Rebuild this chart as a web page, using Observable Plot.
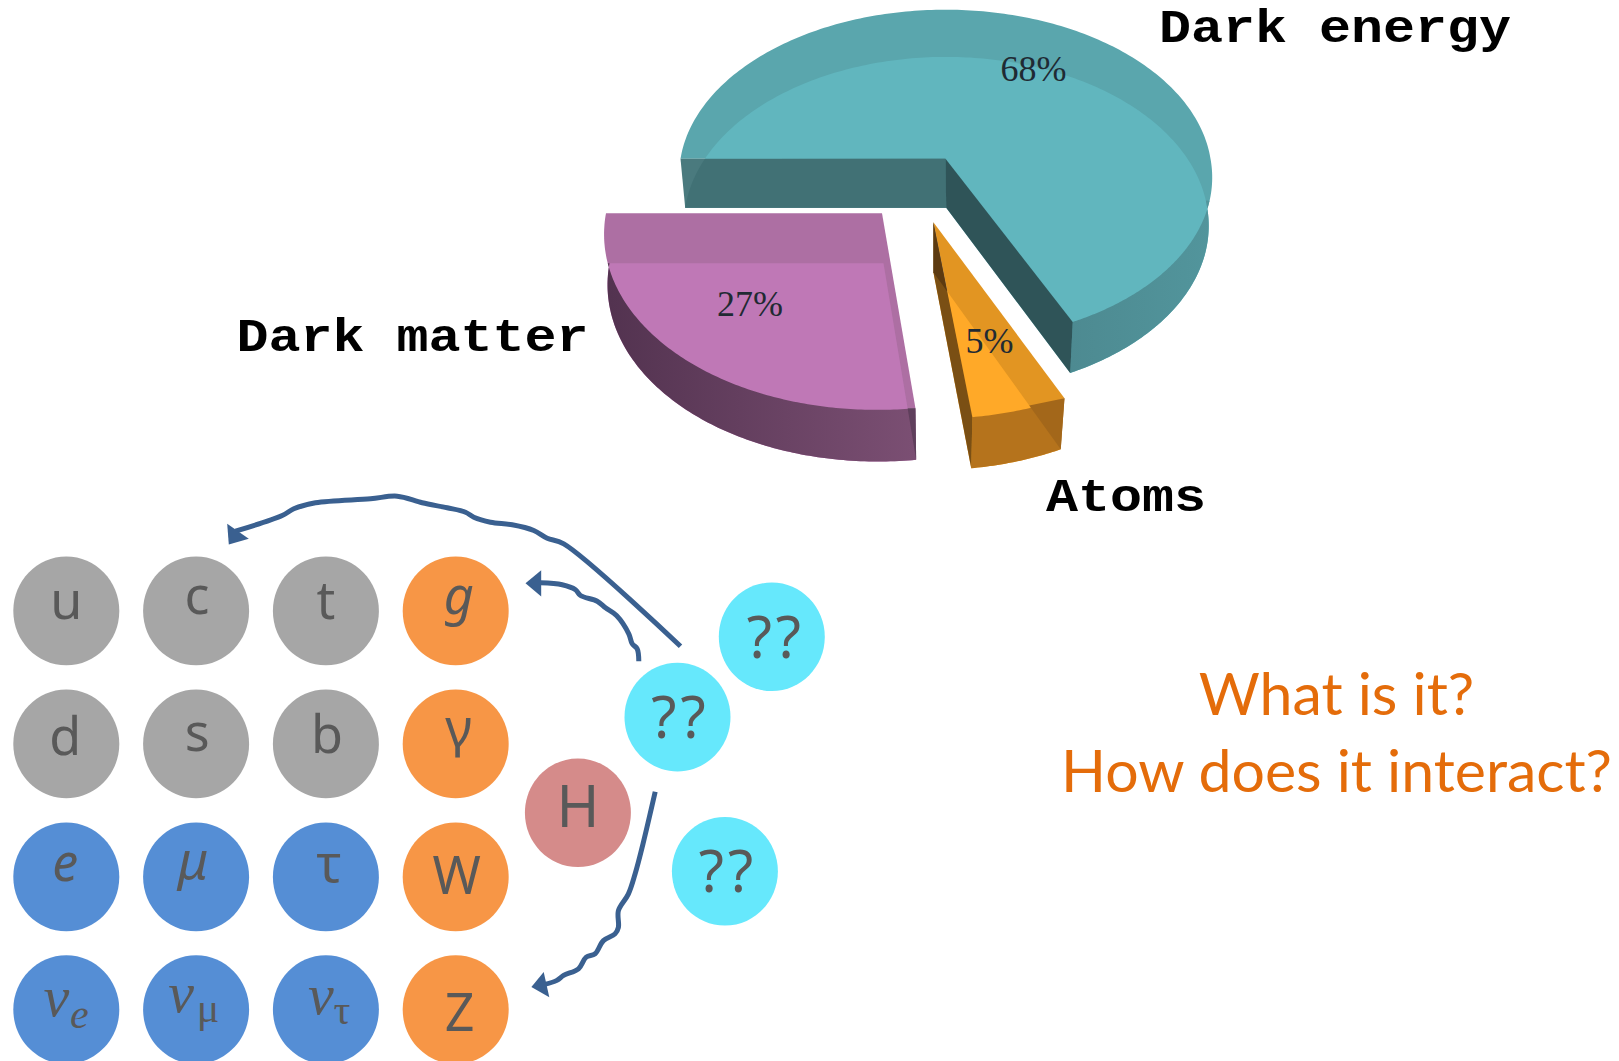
<!DOCTYPE html>
<html>
<head>
<meta charset="utf-8">
<title>Dark energy, dark matter and atoms</title>
<script src="https://cdn.jsdelivr.net/npm/d3@7"></script>
<script src="https://cdn.jsdelivr.net/npm/@observablehq/plot@0.6"></script>
<style>
  html, body { margin: 0; padding: 0; background: #fff; }
  svg { display: block; }
</style>
</head>
<body>
<div id="chart"></div>
<script>
// Pie shares, clockwise from the nine o'clock position.
const pieNames = ["Dark energy", "Atoms", "Dark matter"];
const pieShares = [68, 5, 27];

// Particle grid.
const particleNames = ["u", "c", "t", "g", "d", "s", "b", "γ", "e", "μ", "τ", "W", "ν", "ν", "ν", "Z"];
const particleGroups = ["quark", "quark", "quark", "boson", "quark", "quark", "quark", "boson",
                        "lepton", "lepton", "lepton", "boson", "lepton", "lepton", "lepton", "boson"];
const columnX = [65.8, 195.6, 325.4, 455.2];
const rowY = [610.4, 743.4, 876.4, 1009.1];
const labelShiftX = [0, 1, 0, 3, -1, 1, 1, 3, -1, -3, 3, 1, -10, -15, -5, 4];
const labelBaseline = [8.5, 3, 8.5, 3.5, 10.7, 7, 9, 2, 3.7, 2, 5, 16.7, 6.3, 2.6, 4.4, 21];

// Neutrino flavour subscripts.
const subscriptNames = ["e", "μ", "τ"];
const subscriptShiftX = [13, 12, 16];
const subscriptBaseline = [18, 12.6, 14.4];

// Higgs and the unknown particles.
const extraNames = ["??", "??", "H", "??"];
const extraX = [771.3, 677, 577.4, 724.4];
const extraY = [636.3, 716.6, 812.3, 870.7];
const extraColors = ["#66e8fc", "#66e8fc", "#d58b8a", "#66e8fc"];
const extraLabelShiftX = [4, 3, 0, 3];
const extraLabelBaseline = [21, 21, 14, 21];

const groupColors = {quark: "#a6a6a6", boson: "#f79646", lepton: "#558ed5"};
const inkColor = "#595959";
const arrowColor = "#3a6090";

// Hand-drawn interaction arrows.
const longArrowX = [680, 563.3, 546.7, 533.3, 511.7, 490, 473.3, 465, 446.7, 421.7, 396.7, 370, 315, 293.3, 281.7, 235];
const longArrowY = [645.7, 543.3, 537.7, 530, 524.3, 521.7, 516.7, 511.7, 507.3, 502.3, 495.7, 498.3, 502.3, 508.3, 515, 530.7];
const longHeadX = [226.7, 248.3, 228.3];
const longHeadY = [523.3, 538.3, 544];
const gluonArrowX = [638.3, 636.7, 631.7, 628.3, 616, 605, 596.7, 580, 575, 561.7, 540];
const gluonArrowY = [660.7, 648.3, 643.3, 633.3, 615, 607.3, 600.7, 595, 589.3, 584.3, 582.3];
const gluonHeadX = [525, 540.7, 540.7];
const gluonHeadY = [582.7, 569.7, 596];
const zArrowX = [654.7, 642.8, 634.5, 627.8, 617.9, 617.9, 614.5, 602.9, 594.6, 585.7, 578, 563.1, 556.4, 543.2];
const zArrowY = [791.3, 842.1, 873.7, 893.6, 910.2, 926.8, 933.4, 940.1, 953.3, 956.6, 968.3, 974.9, 979.9, 984.2];
const zHeadX = [530.9, 543.2, 548.8];
const zHeadY = [986.6, 971.6, 996.8];

// Perspective pie: each wedge has a lid and a floor, each with its own centre, radii
// and a small sideways lean towards the viewer.
const lids = [
  {cx: 945, cy: 158.3, rx: 265, ry: 164, lean: 3.5},
  {cx: 932.9, cy: 221.7, rx: 280, ry: 177, lean: 0},
  {cx: 881.5, cy: 212.7, rx: 276, ry: 177, lean: -5}
];
const floors = [
  {cx: 945.7, cy: 207.3, rx: 261, ry: 166, lean: 2},
  {cx: 932.9, cy: 271.7, rx: 272, ry: 178, lean: 0},
  {cx: 883, cy: 262.7, rx: 274, ry: 178.5, lean: -5.5}
];
const depth = 0.1;

const project = (c, a) => {
  const s = Math.sin(a), w = 1 - depth * s;
  return [c.cx + c.rx * Math.cos(a) / w + c.lean * Math.max(0, s), c.cy + c.ry * s / w];
};
const arc = (c, a0, a1, n = 120) =>
  d3.range(n + 1).map(i => project(c, a0 + (a1 - a0) * i / n));
const apex = c => [c.cx, c.cy];
const deg = d => d * Math.PI / 180;
const meet = ([ax, ay], [bx, by], [cx, cy], [dx, dy]) => {
  const t = ((cx - ax) * (dy - cy) - (cy - ay) * (dx - cx)) /
            ((bx - ax) * (dy - cy) - (by - ay) * (dx - cx));
  return [ax + (bx - ax) * t, ay + (by - ay) * t];
};

// Wedge start and end angles come from the cumulative shares.
const total = d3.sum(pieShares);
const edges = Array.from(d3.cumsum([0, ...pieShares]), s => Math.PI + 2 * Math.PI * s / total);
const [eStart, eEnd] = [edges[0], edges[1]];
const [aStart, aEnd] = [edges[1], edges[2]];
const [mStart, mEnd] = [edges[2], edges[3]];

const shape = (points, fill) =>
  Plot.line(points, {x: d => d[0], y: d => d[1], fill, stroke: "none", curve: "linear"});

// Dark energy
const [eLid, eFloor] = [lids[0], floors[0]];
const energyMarks = [
  shape([apex(eLid), ...arc(eLid, eStart, eEnd, 240)], "#5aa6ad"),
  shape([apex(eFloor), ...arc(eFloor, eStart, eEnd, 240)], "#61b6be"),
  shape([...arc(eLid, eEnd, deg(360 + 14.4)), ...arc(eFloor, deg(360 - 2.5), eEnd)], "url(#energyWall)"),
  shape([project(eLid, eStart), apex(eLid), apex(eFloor), project(eFloor, eStart)], "#4a7a7e"),
  shape([apex(eLid), apex(eFloor), ...arc(eFloor, eStart, eStart + deg(40)).filter(p => p[1] >= eLid.cy)], "#417175"),
  shape([apex(eLid), project(eLid, eEnd), project(eFloor, eEnd), apex(eFloor)], "#2f5458")
];

// Atoms
const [aLid, aFloor] = [lids[1], floors[1]];
const aCrossWall = meet(apex(aFloor), project(aFloor, aStart), project(aLid, aStart), project(aLid, aEnd));
const aCrossSide = meet(apex(aFloor), project(aFloor, aStart), apex(aLid), project(aLid, aEnd));
const atomMarks = [
  shape([apex(aLid), ...arc(aLid, aStart, aEnd, 30)], "#e29522"),
  shape([apex(aFloor), ...arc(aFloor, aStart, aEnd, 30)], "#ffa928"),
  shape([...arc(aLid, aStart, aEnd, 30), ...arc(aFloor, aEnd, aStart, 30)], "#b5731c"),
  shape([aCrossWall, project(aLid, aStart), project(aFloor, aStart)], "#a3671a"),
  shape([apex(aLid), project(aLid, aEnd), project(aFloor, aEnd), apex(aFloor)], "#7a4f14"),
  shape([apex(aLid), aCrossSide, apex(aFloor)], "#5c3a10")
];

// Dark matter
const [mLid, mFloor] = [lids[2], floors[2]];
const mCrossWall = meet(apex(mFloor), project(mFloor, mStart), project(mLid, mStart), project(mLid, mStart + deg(10)));
const matterMarks = [
  shape([apex(mLid), ...arc(mLid, mStart, mEnd)], "#ad6fa3"),
  shape([apex(mFloor), ...arc(mFloor, mStart, mEnd)], "#bf78b6"),
  shape([...arc(mLid, mStart, deg(360 + 164)), ...arc(mFloor, mEnd, mStart)], "url(#matterWall)"),
  shape([mCrossWall, project(mLid, mStart), project(mFloor, mStart)], "#5f3f5c")
];

// Slightly tall ellipse symbol for the particle discs, built from four Bézier quarters.
const oval = {
  draw(ctx, size) {
    const rx = Math.sqrt(size / Math.PI), ry = rx * 1.025, k = 0.5523;
    ctx.moveTo(rx, 0);
    ctx.bezierCurveTo(rx, k * ry, k * rx, ry, 0, ry);
    ctx.bezierCurveTo(-k * rx, ry, -rx, k * ry, -rx, 0);
    ctx.bezierCurveTo(-rx, -k * ry, -k * rx, -ry, 0, -ry);
    ctx.bezierCurveTo(k * rx, -ry, rx, -k * ry, rx, 0);
    ctx.closePath();
  }
};

const particles = particleNames.map((name, i) => ({
  name,
  group: particleGroups[i],
  x: columnX[i % 4],
  y: rowY[Math.floor(i / 4)],
  shift: labelShiftX[i],
  base: labelBaseline[i]
}));
const neutrinos = particles.slice(12, 15);
const subscripts = subscriptNames.map((name, i) => ({
  name,
  x: neutrinos[i].x + subscriptShiftX[i],
  base: neutrinos[i].y + subscriptBaseline[i]
}));
const extras = extraNames.map((name, i) => ({
  name,
  x: extraX[i],
  y: extraY[i],
  color: extraColors[i],
  shift: extraLabelShiftX[i],
  base: extraLabelBaseline[i]
}));

const zip = (xs, ys) => xs.map((x, i) => [x, ys[i]]);
const arrow = (xs, ys, hx, hy) => [
  Plot.line(zip(xs, ys), {x: d => d[0], y: d => d[1], stroke: arrowColor, strokeWidth: 5,
                          curve: "catmull-rom", strokeLinecap: "butt"}),
  shape(zip(hx, hy), arrowColor)
];

// Text drawn with its baseline at y: Plot's middle line anchor sits 0.32em above the baseline.
const word = (data, size, family, extra = {}) =>
  Plot.text(data, {
    x: d => d.x, y: d => d.base - 0.32 * size, text: d => d.name,
    fontSize: size, fontFamily: family, fill: inkColor, lineAnchor: "middle", textAnchor: "middle",
    ...extra
  });

const sans = "'Noto Sans'";
const serif = "'Liberation Serif'";
const mono = "'Liberation Mono'";
const at = d => ({name: d.name, x: d.x + d.shift, base: d.y + d.base});
const plainNames = new Set(["u", "c", "t", "d", "s", "b", "γ", "τ", "W", "Z"]);
const slanted = new Set(["g", "e", "μ"]);
const grid = particles.filter(d => d.name !== "ν");

const chart = Plot.plot({
  width: 1619,
  height: 1061,
  margin: 0,
  x: {domain: [0, 1619], range: [0, 1619], axis: null},
  y: {domain: [0, 1061], range: [0, 1061], axis: null},
  marks: [
    ...energyMarks,
    ...matterMarks,
    ...atomMarks,

    word(pieShares.map((s, i) => ({name: `${s}%`, x: [1033, 989, 749.6][i], base: [80, 352, 315][i]})), 36, serif,
         {fill: "#1f2a33"}),
    word(pieNames.map((name, i) => ({name, x: [1334.5, 1125.5, 412][i], base: [41, 510, 350][i]})), 46, mono,
         {fill: "#000", fontWeight: "bold"}),

    ...arrow(longArrowX, longArrowY, longHeadX, longHeadY),
    ...arrow(gluonArrowX, gluonArrowY, gluonHeadX, gluonHeadY),
    ...arrow(zArrowX, zArrowY, zHeadX, zHeadY),

    Plot.dot(particles, {x: "x", y: "y", r: 53, symbol: oval, fill: d => groupColors[d.group], stroke: "none"}),
    Plot.dot(extras, {x: "x", y: "y", r: 53, symbol: oval, fill: d => d.color, stroke: "none"}),

    word(grid.filter(d => plainNames.has(d.name)).map(at), 52, sans),
    word(grid.filter(d => slanted.has(d.name)).map(at), 52, sans, {fontStyle: "italic"}),
    word(neutrinos.map(at), 58, serif, {fontStyle: "italic"}),
    word(subscripts.slice(0, 1), 42, serif, {fontStyle: "italic"}),
    word(subscripts.slice(1), 42, serif),
    word(extras.map(at), 58, sans),

    word([{name: "What is it?", x: 1336, base: 714}, {name: "How does it interact?", x: 1336, base: 791}], 59, "Lato",
         {fill: "#e46c0a"})
  ]
});

// Gradients for the curved outer walls.
const defs = d3.select(chart).insert("defs", ":first-child");
const gradient = (id, x1, x2, c1, c2) => {
  const g = defs.append("linearGradient").attr("id", id).attr("gradientUnits", "userSpaceOnUse")
    .attr("x1", x1).attr("x2", x2).attr("y1", 0).attr("y2", 0);
  g.append("stop").attr("offset", 0).attr("stop-color", c1);
  g.append("stop").attr("offset", 1).attr("stop-color", c2);
};
gradient("energyWall", 1070, 1210, "#4d8a91", "#52959c");
gradient("matterWall", 610, 915, "#533350", "#7b4f73");

// The typewriter labels are set wide; the question marks sit a little apart.
const texts = d3.select(chart).selectAll("text");
texts.filter(function () { return pieNames.includes(this.textContent); })
  .attr("transform", function () { return `${this.getAttribute("transform")} scale(1.16,1)`; });
texts.filter(function () { return this.textContent === "??"; })
  .attr("letter-spacing", 4);

document.getElementById("chart").append(chart);
</script>
</body>
</html>
